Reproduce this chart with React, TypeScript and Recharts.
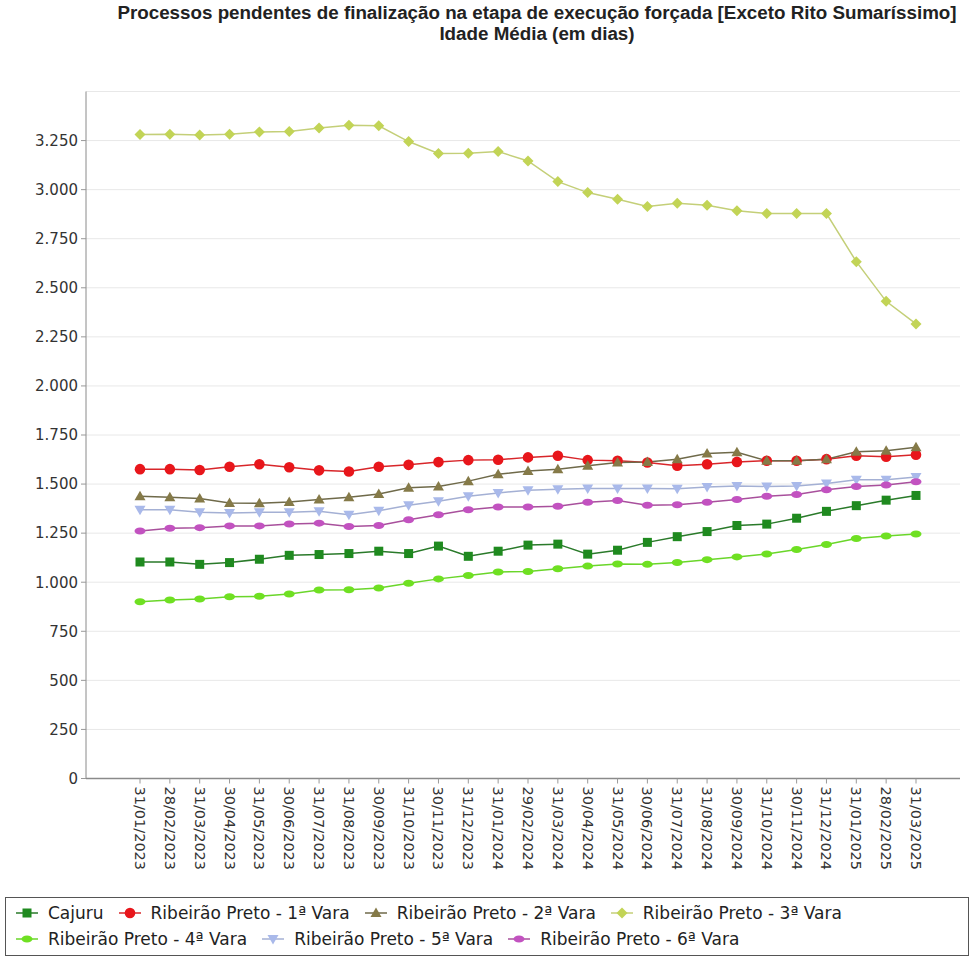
import React from 'react';
import { LineChart, Line, XAxis, YAxis, CartesianGrid } from 'recharts';

const categories = [
  '31/01/2023', '28/02/2023', '31/03/2023', '30/04/2023', '31/05/2023', '30/06/2023',
  '31/07/2023', '31/08/2023', '30/09/2023', '31/10/2023', '30/11/2023', '31/12/2023',
  '31/01/2024', '29/02/2024', '31/03/2024', '30/04/2024', '31/05/2024', '30/06/2024',
  '31/07/2024', '31/08/2024', '30/09/2024', '31/10/2024', '30/11/2024', '31/12/2024',
  '31/01/2025', '28/02/2025', '31/03/2025',
];

const cajuru = [1103, 1103, 1091, 1100, 1117, 1137, 1141, 1146, 1158, 1146, 1184, 1132, 1158, 1189, 1194, 1143, 1163, 1203, 1232, 1258, 1289, 1296, 1326, 1361, 1390, 1418, 1442];
const vara1 = [1576, 1576, 1572, 1588, 1601, 1586, 1570, 1564, 1588, 1598, 1612, 1622, 1624, 1636, 1644, 1622, 1619, 1610, 1593, 1601, 1613, 1619, 1619, 1627, 1644, 1639, 1649];
const vara2 = [1438, 1433, 1426, 1404, 1402, 1409, 1421, 1433, 1450, 1481, 1488, 1515, 1550, 1567, 1576, 1593, 1610, 1613, 1627, 1656, 1662, 1619, 1619, 1627, 1665, 1670, 1687];
const vara3 = [3281, 3282, 3279, 3282, 3294, 3296, 3314, 3328, 3325, 3245, 3184, 3186, 3194, 3146, 3041, 2985, 2951, 2914, 2931, 2921, 2893, 2878, 2878, 2878, 2633, 2431, 2316];
const vara4 = [900, 909, 914, 926, 928, 940, 960, 962, 971, 995, 1017, 1034, 1052, 1055, 1069, 1082, 1093, 1091, 1100, 1115, 1129, 1144, 1167, 1192, 1223, 1235, 1246];
const vara5 = [1369, 1369, 1356, 1352, 1356, 1356, 1361, 1344, 1364, 1392, 1412, 1438, 1455, 1469, 1473, 1478, 1478, 1478, 1476, 1485, 1490, 1488, 1490, 1503, 1522, 1522, 1536];
const vara6 = [1261, 1275, 1278, 1287, 1287, 1297, 1301, 1284, 1289, 1318, 1344, 1369, 1383, 1383, 1387, 1407, 1416, 1392, 1395, 1407, 1421, 1438, 1447, 1471, 1488, 1495, 1512];

const yTicks = [0, 250, 500, 750, 1000, 1250, 1500, 1750, 2000, 2250, 2500, 2750, 3000, 3250];

const titleLine1 = 'Processos pendentes de finalização na etapa de execução forçada [Exceto Rito Sumaríssimo]';
const titleLine2 = 'Idade Média (em dias)';

type Kind = 'square' | 'circle' | 'triUp' | 'diamond' | 'ellipse' | 'triDown';

const series: { key: string; name: string; values: number[]; color: string; line: string; kind: Kind }[] = [
  { key: 'cajuru', name: 'Cajuru', values: cajuru, color: '#1f8a1f', line: '#2a7a2a', kind: 'square' },
  { key: 'vara1', name: 'Ribeirão Preto - 1ª Vara', values: vara1, color: '#e8161b', line: '#d8262a', kind: 'circle' },
  { key: 'vara2', name: 'Ribeirão Preto - 2ª Vara', values: vara2, color: '#857a48', line: '#6f6a4a', kind: 'triUp' },
  { key: 'vara3', name: 'Ribeirão Preto - 3ª Vara', values: vara3, color: '#c2d456', line: '#c4cf78', kind: 'diamond' },
  { key: 'vara4', name: 'Ribeirão Preto - 4ª Vara', values: vara4, color: '#6fe022', line: '#6ad62a', kind: 'ellipse' },
  { key: 'vara5', name: 'Ribeirão Preto - 5ª Vara', values: vara5, color: '#a9b9ea', line: '#a4b0d4', kind: 'triDown' },
  { key: 'vara6', name: 'Ribeirão Preto - 6ª Vara', values: vara6, color: '#c252c0', line: '#a8509c', kind: 'ellipse' },
];

const data = categories.map((date, i) => {
  const row: Record<string, string | number> = { date };
  series.forEach((s) => { row[s.key] = s.values[i]; });
  return row;
});

function Marker({ kind, cx, cy, color }: { kind: Kind; cx: number; cy: number; color: string }) {
  switch (kind) {
    case 'square':
      return <rect x={cx - 4.5} y={cy - 4.5} width={9} height={9} fill={color} />;
    case 'circle':
      return <circle cx={cx} cy={cy} r={5.3} fill={color} />;
    case 'triUp':
      return <polygon points={`${cx},${cy - 5.5} ${cx + 5.5},${cy + 4} ${cx - 5.5},${cy + 4}`} fill={color} />;
    case 'diamond':
      return <polygon points={`${cx},${cy - 5.5} ${cx + 5.5},${cy} ${cx},${cy + 5.5} ${cx - 5.5},${cy}`} fill={color} />;
    case 'ellipse':
      return <ellipse cx={cx} cy={cy} rx={5.5} ry={3.5} fill={color} />;
    case 'triDown':
      return <polygon points={`${cx - 5.5},${cy - 4} ${cx + 5.5},${cy - 4} ${cx},${cy + 5.5}`} fill={color} />;
  }
  return null;
}

const fmt = (v: number) => v.toLocaleString('de-DE');

const XTick = (props: any) => {
  const { x, y, payload } = props;
  return (
    <text
      transform={`translate(${x},${y}) rotate(90)`}
      textAnchor="start"
      dominantBaseline="central"
      fontFamily="DejaVu Sans"
      fontSize={14.5}
      fill="#333"
    >
      {payload.value}
    </text>
  );
};

export default function App() {
  return (
    <div style={{ position: 'absolute', left: 0, top: 0, width: 972, height: 958, background: '#fff', overflow: 'hidden' }}>
      <div
        style={{
          position: 'absolute', left: 102, top: 2, width: 870, textAlign: 'center',
          fontFamily: '"Liberation Sans", Arial, sans-serif',
          fontWeight: 'bold', fontSize: 18.8, lineHeight: '21px', color: '#222',
        }}
      >
        <div style={{ whiteSpace: 'nowrap' }}>{titleLine1}</div>
        <div style={{ whiteSpace: 'nowrap' }}>{titleLine2}</div>
      </div>
      <LineChart
        width={972}
        height={958}
        data={data}
        margin={{ top: 91.5, right: 12, bottom: 79.5, left: 0 }}
      >
        <CartesianGrid vertical={false} stroke="#e8e8e8" />
        <XAxis
          dataKey="date"
          height={100}
          padding={{ left: 54, right: 44 }}
          interval={0}
          tick={<XTick />}
          tickSize={5}
          tickMargin={3}
          tickLine={{ stroke: '#999' }}
          axisLine={{ stroke: '#8a8a8a', strokeWidth: 1.5 }}
        />
        <YAxis
          width={86}
          domain={[0, 3500]}
          ticks={yTicks}
          interval={0}
          tickFormatter={fmt}
          tick={{ fontFamily: 'DejaVu Sans', fontSize: 15, fill: '#333' }}
          tickSize={5}
          tickMargin={3}
          tickLine={{ stroke: '#999' }}
          axisLine={{ stroke: '#8a8a8a' }}
        />
        {series.map((s) => (
          <Line
            key={s.key}
            dataKey={s.key}
            name={s.name}
            type="linear"
            stroke={s.line}
            strokeWidth={1.5}
            isAnimationActive={false}
            activeDot={false}
            dot={(p: any) => (
              <g key={`${s.key}-${p.index}`}>
                <Marker kind={s.kind} cx={p.cx} cy={p.cy} color={s.color} />
              </g>
            )}
          />
        ))}
      </LineChart>
      <div
        style={{
          position: 'absolute', left: 5, top: 897, width: 964, height: 59, boxSizing: 'border-box',
          border: '1px solid #555', padding: '2px 0 0 10px', display: 'flex', flexWrap: 'wrap',
          alignContent: 'flex-start', fontFamily: 'DejaVu Sans', fontSize: 17, color: '#222',
        }}
      >
        {series.map((s) => (
          <div key={s.key} style={{ display: 'flex', alignItems: 'center', height: 26, marginRight: 15 }}>
            <svg width={22} height={14} style={{ display: 'block' }}>
              <line x1={0} y1={7} x2={22} y2={7} stroke={s.line} strokeWidth={1.5} />
              <Marker kind={s.kind} cx={11} cy={7} color={s.color} />
            </svg>
            <span style={{ marginLeft: 10, whiteSpace: 'nowrap' }}>{s.name}</span>
          </div>
        ))}
      </div>
    </div>
  );
}
